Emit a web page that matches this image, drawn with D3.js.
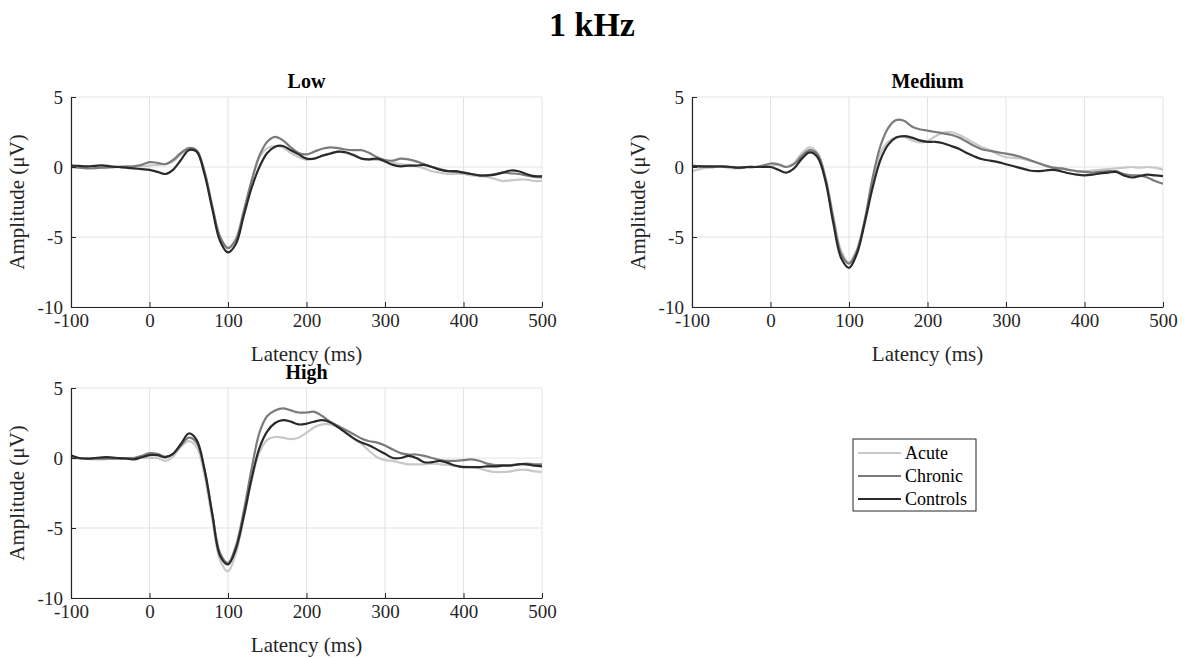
<!DOCTYPE html>
<html><head><meta charset="utf-8">
<script src="https://cdn.jsdelivr.net/npm/d3@7"></script>
<style>body{margin:0;background:#fff;} text{font-family:"Liberation Serif","Times New Roman",serif;}</style>
</head><body>
<svg id="c" width="1188" height="659"></svg>
<script>
const times = d3.range(-100, 501, 10);
const seriesNames = ["Acute", "Chronic", "Controls"];
const seriesColors = ["#c8c8c8", "#7b7b7b", "#2a2a2a"];
const xTicks = [-100, 0, 100, 200, 300, 400, 500];
const yTicks = [-10, -5, 0, 5];
const panelTitles = ["Low", "Medium", "High"];

// Low
const lowAcute = [0,0,-0.05,-0.1,-0.05,0,0.05,0.05,0.05,0.05,0.1,0.15,0.2,0.4,0.9,1.3,1.15,-0.3,-2.8,-5.0,-5.75,-5.1,-3.1,-1.0,0.7,1.35,1.5,1.4,1.0,0.7,0.5,0.6,0.8,1.0,1.1,1.0,0.8,0.6,0.5,0.5,0.4,0.3,0.2,0.15,0.05,-0.1,-0.3,-0.4,-0.5,-0.5,-0.5,-0.6,-0.65,-0.7,-0.85,-1.0,-0.95,-0.9,-0.9,-1.0,-1.0];
const lowChronic = [0,-0.05,-0.1,-0.08,-0.05,-0.02,0,0.02,0.05,0.15,0.35,0.3,0.2,0.5,1.0,1.35,1.2,-0.3,-2.8,-5.0,-5.8,-5.2,-3.2,-1.0,0.8,1.8,2.15,1.9,1.4,1.0,0.9,1.1,1.3,1.4,1.35,1.25,1.2,1.2,1.0,0.7,0.5,0.45,0.6,0.55,0.4,0.2,0.0,-0.15,-0.3,-0.35,-0.4,-0.5,-0.6,-0.6,-0.5,-0.4,-0.45,-0.5,-0.6,-0.7,-0.75];
const lowControls = [0.1,0.08,0.05,0.08,0.12,0.05,0.0,-0.05,-0.1,-0.15,-0.2,-0.35,-0.5,-0.2,0.5,1.2,1.1,-0.5,-3.0,-5.3,-6.1,-5.5,-3.5,-1.5,0.0,1.0,1.45,1.5,1.2,0.9,0.6,0.6,0.8,0.95,1.1,1.05,0.85,0.6,0.55,0.6,0.4,0.15,0.05,0.1,0.1,0.15,0.0,-0.2,-0.3,-0.3,-0.4,-0.5,-0.6,-0.6,-0.55,-0.4,-0.25,-0.3,-0.5,-0.65,-0.65];
// Medium
const medAcute = [-0.3,-0.15,-0.05,0,0,-0.1,-0.1,-0.05,0,0.05,0.1,0.15,0.0,0.3,1.0,1.4,1.0,-0.7,-3.5,-6.0,-6.8,-5.9,-3.8,-1.0,1.0,1.8,2.1,2.15,1.9,1.75,1.85,2.2,2.45,2.5,2.3,2.0,1.7,1.4,1.2,0.9,0.7,0.65,0.6,0.45,0.3,0.1,-0.05,-0.1,-0.2,-0.3,-0.3,-0.25,-0.2,-0.15,-0.1,-0.05,0.0,-0.05,0.0,-0.05,-0.2];
const medChronic = [0.1,0.05,0,0,0,0,-0.05,0,0,0.1,0.25,0.2,0.0,0.2,0.8,1.2,0.9,-0.8,-3.7,-6.2,-6.9,-6.0,-3.8,-0.8,1.5,2.8,3.35,3.3,2.9,2.7,2.6,2.5,2.4,2.3,2.1,1.8,1.5,1.25,1.15,1.05,0.95,0.85,0.7,0.5,0.3,0.1,-0.05,-0.1,-0.2,-0.3,-0.35,-0.4,-0.35,-0.3,-0.3,-0.5,-0.6,-0.6,-0.75,-1.0,-1.2];
const medControls = [0.05,0.05,0.05,0.05,0.05,0,-0.05,0,0,0,0,-0.2,-0.4,-0.1,0.6,1.05,0.7,-1.0,-4.0,-6.5,-7.2,-6.2,-4.0,-1.5,0.5,1.6,2.1,2.2,2.1,1.9,1.8,1.8,1.7,1.5,1.3,1.0,0.75,0.55,0.45,0.35,0.2,0.05,-0.1,-0.25,-0.3,-0.25,-0.2,-0.3,-0.45,-0.55,-0.6,-0.55,-0.45,-0.4,-0.35,-0.6,-0.75,-0.65,-0.55,-0.6,-0.65];
// High
const highAcute = [0,-0.05,-0.05,-0.1,-0.1,-0.05,-0.05,0,0,0,0,0,-0.2,0.1,0.8,1.2,0.8,-1.2,-4.4,-7.3,-8.1,-6.8,-4.3,-1.6,0.4,1.3,1.5,1.45,1.35,1.45,1.8,2.2,2.4,2.4,2.2,1.85,1.4,1.0,0.5,0.05,-0.15,-0.2,-0.35,-0.45,-0.45,-0.45,-0.4,-0.45,-0.5,-0.55,-0.6,-0.65,-0.75,-0.9,-1.0,-1.0,-0.95,-0.85,-0.85,-0.95,-1.0];
const highChronic = [0.05,0,-0.05,-0.05,-0.05,-0.05,-0.05,0,0,0.15,0.35,0.3,0.1,0.3,0.9,1.45,1.1,-0.8,-4.0,-6.8,-7.5,-6.3,-3.8,-0.8,1.8,3.0,3.4,3.55,3.4,3.25,3.25,3.3,3.0,2.6,2.3,2.0,1.7,1.4,1.2,1.1,0.9,0.6,0.35,0.25,0.25,0.15,0.0,-0.15,-0.2,-0.2,-0.15,-0.1,-0.2,-0.4,-0.5,-0.5,-0.5,-0.45,-0.4,-0.45,-0.45];
const highControls = [0.2,0.0,-0.05,0.0,0.05,0.05,0.0,-0.05,-0.1,0.05,0.2,0.2,0.05,0.3,1.0,1.75,1.3,-0.8,-4.0,-7.0,-7.6,-6.5,-4.2,-1.5,0.7,1.9,2.5,2.7,2.6,2.4,2.45,2.6,2.7,2.55,2.2,1.8,1.4,1.1,0.9,0.6,0.3,0.0,0.0,0.15,0.0,-0.3,-0.3,-0.2,-0.35,-0.55,-0.65,-0.65,-0.65,-0.6,-0.6,-0.55,-0.55,-0.45,-0.45,-0.55,-0.6];

const panelData = [
  [lowAcute, lowChronic, lowControls],
  [medAcute, medChronic, medControls],
  [highAcute, highChronic, highControls]
];
const panelBoxes = [
  {x0: 71, x1: 542, y0: 97, y1: 307},
  {x0: 692, x1: 1163, y0: 97, y1: 307},
  {x0: 71, x1: 542, y0: 388, y1: 598}
];

const svg = d3.select("#c");

svg.append("text").attr("x", 592).attr("y", 36).attr("text-anchor", "middle")
  .attr("font-size", 34).attr("font-weight", "bold").text("1 kHz");

panelBoxes.forEach((b, pi) => {
  const x = d3.scaleLinear().domain([-100, 500]).range([b.x0, b.x1]);
  const y = d3.scaleLinear().domain([-10, 5]).range([b.y1, b.y0]);
  const g = svg.append("g");
  // grid
  g.selectAll(".gx").data(xTicks).enter().append("line")
    .attr("x1", d => x(d)).attr("x2", d => x(d)).attr("y1", b.y0).attr("y2", b.y1)
    .attr("stroke", "#e3e3e3").attr("stroke-width", 1);
  g.selectAll(".gy").data(yTicks).enter().append("line")
    .attr("y1", d => y(d)).attr("y2", d => y(d)).attr("x1", b.x0).attr("x2", b.x1)
    .attr("stroke", "#e3e3e3").attr("stroke-width", 1);
  // lines
  const line = d3.line().x((d, i) => x(times[i])).y(d => y(d)).curve(d3.curveCatmullRom.alpha(0.5));
  panelData[pi].forEach((s, si) => {
    g.append("path").attr("d", line(s)).attr("fill", "none")
      .attr("stroke", seriesColors[si]).attr("stroke-width", 2.2);
  });
  // axes
  const fmt = d => String(d);
  const xa = d3.axisBottom(x).tickValues(xTicks).tickFormat(fmt).tickSizeInner(-5).tickSizeOuter(0).tickPadding(10);
  const ya = d3.axisLeft(y).tickValues(yTicks).tickFormat(fmt).tickSizeInner(-5).tickSizeOuter(0).tickPadding(10);
  const gx = g.append("g").attr("transform", `translate(0,${b.y1})`).call(xa);
  const gy = g.append("g").attr("transform", `translate(${b.x0},0)`).call(ya);
  [gx, gy].forEach(a => {
    a.select(".domain").attr("stroke", "#262626").attr("stroke-width", 1.2);
    a.selectAll(".tick line").attr("stroke", "#262626");
    a.selectAll(".tick text").attr("font-size", 19).attr("fill", "#262626")
      .attr("font-family", "Liberation Serif, Times New Roman, serif");
  });
  gx.selectAll(".tick text").attr("dy", "0.5em");
  gy.selectAll(".tick text").attr("dx", "0.1em");
  // labels
  const cx = (b.x0 + b.x1) / 2, cy = (b.y0 + b.y1) / 2;
  g.append("text").attr("x", cx).attr("y", b.y1 + 54).attr("text-anchor", "middle")
    .attr("font-size", 21).attr("fill", "#262626").text("Latency (ms)");
  g.append("text").attr("transform", `translate(${b.x0 - 47},${cy}) rotate(-90)`)
    .attr("text-anchor", "middle").attr("font-size", 21).attr("fill", "#262626").text("Amplitude (μV)");
  g.append("text").attr("x", cx).attr("y", b.y0 - 9).attr("text-anchor", "middle")
    .attr("font-size", 20).attr("font-weight", "bold").text(panelTitles[pi]);
});

// legend
const lg = svg.append("g").attr("transform", "translate(853,439)");
lg.append("rect").attr("width", 123).attr("height", 72).attr("fill", "#fff")
  .attr("stroke", "#262626").attr("stroke-width", 1);
seriesNames.forEach((n, i) => {
  const yy = 14 + i * 23;
  lg.append("line").attr("x1", 5).attr("x2", 48).attr("y1", yy).attr("y2", yy)
    .attr("stroke", seriesColors[i]).attr("stroke-width", 2.2);
  lg.append("text").attr("x", 52).attr("y", yy + 6).attr("font-size", 18)
    .attr("fill", "#000").text(n);
});
</script>
</body></html>
